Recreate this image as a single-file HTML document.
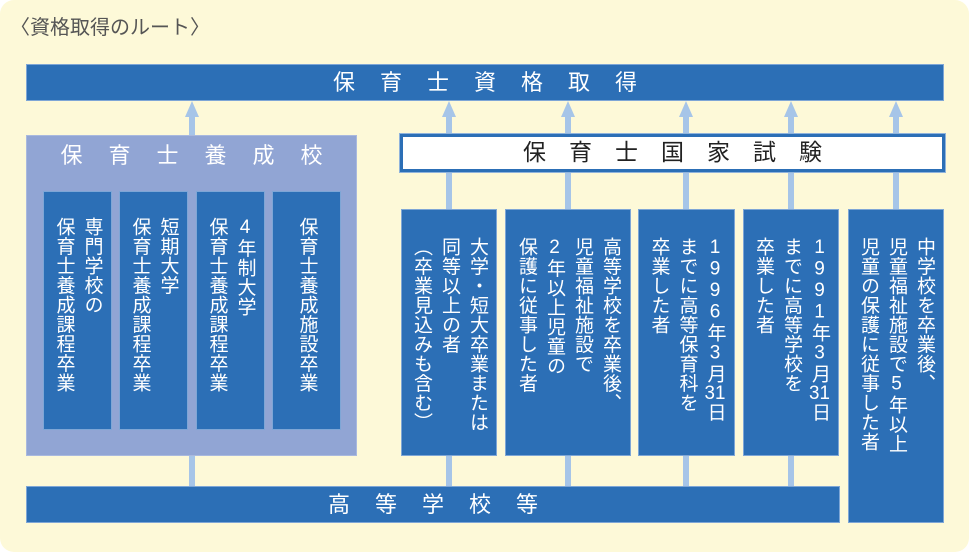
<!DOCTYPE html>
<html><head><meta charset="utf-8"><style>
*{margin:0;padding:0;box-sizing:border-box}
body{width:969px;height:552px;background:#fff;position:relative;overflow:hidden;font-family:"Liberation Sans","Noto Sans CJK JP",sans-serif}
.bg{position:absolute;left:0;top:0;width:969px;height:552px;background:#fdf9d8;border-radius:14px}
.a{position:absolute}
.blue{background:#2c6fb6;border:1px solid #7ea6d6}
.line{position:absolute;background:#a6c5e8;width:6px}
.tri{position:absolute;width:0;height:0;border-left:7px solid transparent;border-right:7px solid transparent;border-bottom:16px solid #a6c5e8}
.bar{color:#fff;font-size:22px;text-align:center;letter-spacing:25px}
.col{position:absolute;display:flex;justify-content:center;align-items:flex-start}
.v{writing-mode:vertical-rl;text-orientation:upright;color:#fff;font-size:19px;line-height:28px;letter-spacing:0.5px;white-space:nowrap}
.tcy{text-combine-upright:all}
</style></head><body>
<div class="bg"></div>
<div class="a" style="left:10px;top:11px;font-size:20px;color:#555">〈資格取得のルート〉</div>

<div class="a blue bar" style="left:26px;top:64px;width:918px;height:37px;line-height:35px;padding-left:25px">保育士資格取得</div>

<div class="line" style="left:189px;top:116px;height:20px"></div><div class="tri" style="left:185px;top:101px"></div>
<div class="line" style="left:446px;top:116px;height:20px"></div><div class="tri" style="left:442px;top:101px"></div>
<div class="line" style="left:565px;top:116px;height:20px"></div><div class="tri" style="left:561px;top:101px"></div>
<div class="line" style="left:683px;top:116px;height:20px"></div><div class="tri" style="left:679px;top:101px"></div>
<div class="line" style="left:788px;top:116px;height:20px"></div><div class="tri" style="left:784px;top:101px"></div>
<div class="line" style="left:893px;top:116px;height:95px"></div><div class="tri" style="left:889px;top:101px"></div>

<div class="a" style="left:26px;top:135px;width:331px;height:321px;background:#91a5d4;border:1px solid #a9b9de"></div>
<div class="a bar" style="left:26px;top:141px;width:331px;font-size:22px;letter-spacing:26px;padding-left:26px;line-height:30px">保育士養成校</div>
<div class="col blue" style="left:43px;top:191px;width:69px;height:239px;padding-top:25px"><div class="v">専門学校の<br>保育士養成課程卒業</div></div>
<div class="col blue" style="left:119px;top:191px;width:69px;height:239px;padding-top:25px"><div class="v">短期大学<br>保育士養成課程卒業</div></div>
<div class="col blue" style="left:196px;top:191px;width:69px;height:239px;padding-top:25px"><div class="v">4年制大学<br>保育士養成課程卒業</div></div>
<div class="col blue" style="left:272px;top:191px;width:69px;height:239px;padding-top:25px"><div class="v">保育士養成施設卒業</div></div>

<div class="line" style="left:446px;top:170px;height:40px"></div>
<div class="line" style="left:565px;top:170px;height:40px"></div>
<div class="line" style="left:683px;top:170px;height:40px"></div>
<div class="line" style="left:788px;top:170px;height:40px"></div>
<div class="a" style="left:400px;top:134px;width:545px;height:38px;background:#fff;border:3px solid #2c6fb6;outline:1px solid #8fb3dc;font-size:23px;text-align:center;line-height:31px;letter-spacing:23px;padding-left:23px;color:#222">保育士国家試験</div>

<div class="col blue" style="left:401px;top:209px;width:96px;height:247px;padding-top:27px"><div class="v">大学・短大卒業または<br>同等以上の者<br>（卒業見込みも含む）</div></div>
<div class="col blue" style="left:505px;top:209px;width:126px;height:247px;padding-top:27px"><div class="v">高等学校を卒業後、<br>児童福祉施設で<br>2年以上児童の<br>保護に従事した者</div></div>
<div class="col blue" style="left:638px;top:209px;width:97px;height:247px;padding-top:27px"><div class="v">1996年3月<span class="tcy">31</span>日<br>までに高等保育科を<br>卒業した者</div></div>
<div class="col blue" style="left:743px;top:209px;width:96px;height:247px;padding-top:27px"><div class="v">1991年3月<span class="tcy">31</span>日<br>までに高等学校を<br>卒業した者</div></div>
<div class="col blue" style="left:848px;top:209px;width:96px;height:314px;padding-top:27px"><div class="v">中学校を卒業後、<br>児童福祉施設で5年以上<br>児童の保護に従事した者</div></div>

<div class="line" style="left:189px;top:456px;height:31px"></div>
<div class="line" style="left:446px;top:456px;height:31px"></div>
<div class="line" style="left:565px;top:456px;height:31px"></div>
<div class="line" style="left:683px;top:456px;height:31px"></div>
<div class="line" style="left:788px;top:456px;height:31px"></div>

<div class="a blue bar" style="left:26px;top:486px;width:814px;height:37px;line-height:35px;padding-left:25px">高等学校等</div>
</body></html>
